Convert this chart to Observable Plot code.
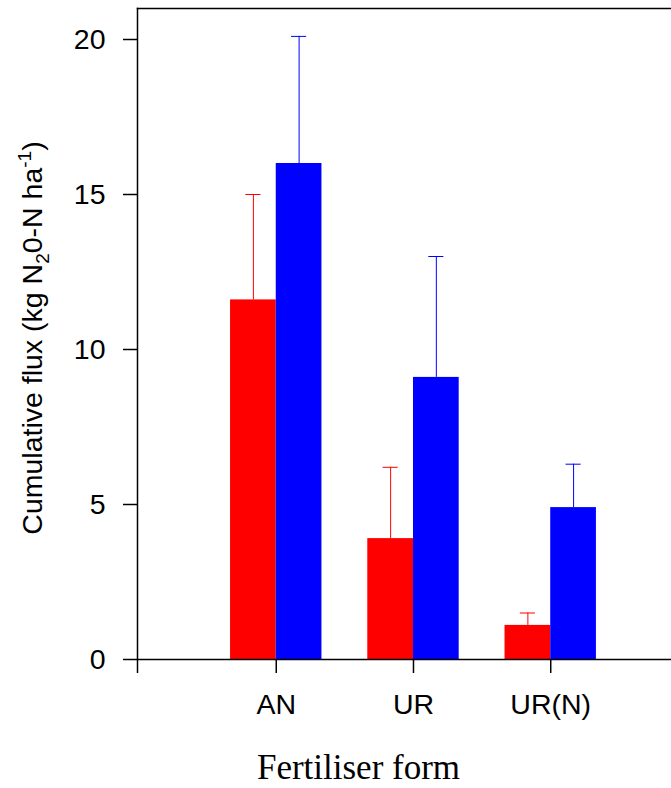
<!DOCTYPE html>
<html>
<head>
<meta charset="utf-8">
<script src="https://cdn.jsdelivr.net/npm/d3@7"></script>
<script src="https://cdn.jsdelivr.net/npm/@observablehq/plot@0.6"></script>
<style>
  html, body { margin: 0; padding: 0; background: #fff; }
  #chart { width: 671px; height: 788px; }
</style>
</head>
<body>
<div id="chart"></div>
<script>
// ---- data ----
const categories = ["AN", "UR", "UR(N)"];
const seriesNames = ["series 1", "series 2"];
const seriesColors = ["#ff0000", "#0000ff"];
const series1Mean = [11.6, 3.9, 1.1];
const series1Upper = [15.0, 6.2, 1.5];
const series2Mean = [16.0, 9.1, 4.9];
const series2Upper = [20.1, 13.0, 6.3];
const yTicks = [0, 5, 10, 15, 20];

// ---- table ----
const rows = [];
categories.forEach((c, i) => {
  rows.push({cat: c, pos: i + 1, s: 0, series: seriesNames[0], mean: series1Mean[i], upper: series1Upper[i]});
  rows.push({cat: c, pos: i + 1, s: 1, series: seriesNames[1], mean: series2Mean[i], upper: series2Upper[i]});
});

// ---- layout ----
const W = 0.333;        // bar width in category units
const CAP = 0.055;      // half cap width
const xDomain = [-0.011, 3.88];
const left = d => d.s === 0 ? d.pos - W : d.pos;
const right = d => d.s === 0 ? d.pos : d.pos + W;
const center = d => (left(d) + right(d)) / 2;

const plot = Plot.plot({
  width: 671,
  height: 788,
  marginTop: 8,
  marginLeft: 137,
  marginRight: 0,
  marginBottom: 129,
  style: {fontFamily: "'Liberation Sans', Arial, sans-serif", fontSize: "28.5px", background: "#fff", color: "#000"},
  x: {type: "linear", domain: xDomain},
  y: {domain: [0, 21]},
  color: {domain: seriesNames, range: seriesColors},
  marks: [
    Plot.rectY(rows, {x1: left, x2: right, y1: 0, y2: "mean", fill: "series"}),
    Plot.ruleX(rows, {x: center, y1: "mean", y2: "upper", stroke: "series", strokeWidth: 1}),
    Plot.ruleY(rows, {y: "upper", x1: d => center(d) - CAP, x2: d => center(d) + CAP, stroke: "series", strokeWidth: 1}),
    Plot.ruleY([0], {stroke: "#000", strokeWidth: 1.5}),
    Plot.frame({anchor: "left", stroke: "#000", strokeWidth: 1.5}),
    Plot.frame({anchor: "top", stroke: "#000", strokeWidth: 1.5}),
    Plot.axisY({ticks: yTicks, tickSize: 14, tickPadding: 18, label: null, fontSize: 28.5, strokeWidth: 1.5}),
    Plot.axisX({ticks: [xDomain[0], 1, 2, 3], tickFormat: d => categories[d - 1] ?? "", tickSize: 14, tickPadding: 20, label: null, fontSize: 28.5, strokeWidth: 1.5})
  ]
});

const svg = d3.select(plot);
// y-axis title with subscript / superscript
const yt = svg.append("text")
  .attr("transform", "translate(42,338) rotate(-90)")
  .attr("text-anchor", "middle")
  .attr("font-family", "'Liberation Sans', Arial, sans-serif")
  .attr("font-size", 28.5)
  .attr("fill", "#000");
yt.append("tspan").text("Cumulative flux (kg N");
yt.append("tspan").attr("font-size", 19).attr("dy", 7).text("2");
yt.append("tspan").attr("dy", -7).text("0-N ha");
yt.append("tspan").attr("font-size", 19).attr("dy", -11).text("-1");
yt.append("tspan").attr("dy", 11).text(")");

// x-axis title
svg.append("text")
  .attr("x", 358.5)
  .attr("y", 779)
  .attr("text-anchor", "middle")
  .attr("font-family", "'Liberation Serif', 'Times New Roman', serif")
  .attr("font-size", 35)
  .attr("fill", "#000")
  .text("Fertiliser form");

document.getElementById("chart").appendChild(plot);
</script>
</body>
</html>
